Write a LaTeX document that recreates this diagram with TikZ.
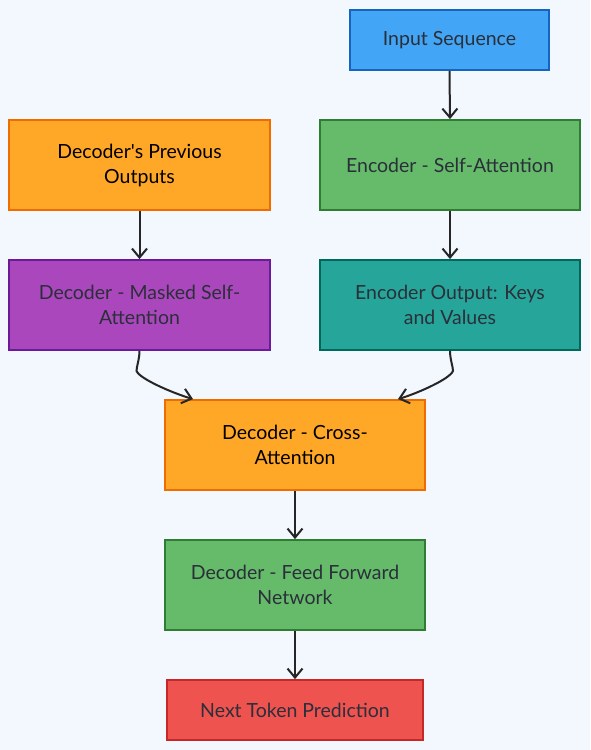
\documentclass[tikz,border=0pt]{standalone}
\usepackage{fontspec}
\setmainfont{Lato}
\usetikzlibrary{arrows.meta}
\definecolor{bg}{HTML}{F3F7FE}
\definecolor{bluef}{HTML}{42A5F5}\definecolor{blued}{HTML}{1565C0}
\definecolor{orf}{HTML}{FFA726}\definecolor{ord}{HTML}{EF6C00}
\definecolor{grf}{HTML}{66BB6A}\definecolor{grd}{HTML}{2E7D32}
\definecolor{puf}{HTML}{AB47BC}\definecolor{pud}{HTML}{6A1B9A}
\definecolor{tef}{HTML}{26A69A}\definecolor{ted}{HTML}{00695C}
\definecolor{ref}{HTML}{EF5350}\definecolor{red}{HTML}{C62828}
\definecolor{txt}{HTML}{2B2F3A}
\tikzset{
  box/.style={draw, line width=1.8pt, rectangle, align=center, inner sep=0pt,
    font=\fontsize{19.5}{25}\selectfont, text=txt},
  conn/.style={draw=black!85, line width=2pt, -{Straight Barb[length=9pt,width=15pt,line width=2pt]}},
}
\begin{document}
\begin{tikzpicture}[x=1pt,y=-1pt]
\fill[bg] (0,0) rectangle (590,750);
\useasboundingbox (0,0) rectangle (590,750);
\node[box, fill=bluef, draw=blued, minimum width=199pt, minimum height=60pt] (inp) at (449.5,40) {Input Sequence};
\node[box, fill=orf, draw=ord, text=black, minimum width=261pt, minimum height=90pt] (prev) at (139.5,165) {Decoder\textquotesingle s Previous\\Outputs};
\node[box, fill=grf, draw=grd, minimum width=260pt, minimum height=90pt] (esa) at (450,165) {Encoder - Self-Attention};
\node[box, fill=puf, draw=pud, minimum width=261pt, minimum height=90pt] (msa) at (139.5,305) {Decoder - Masked Self-\\Attention};
\node[box, fill=tef, draw=ted, minimum width=260pt, minimum height=90pt] (eout) at (450,305) {Encoder Output: Keys\\and Values};
\node[box, fill=orf, draw=ord, text=black, minimum width=260pt, minimum height=90pt] (cross) at (295,445) {Decoder - Cross-\\Attention};
\node[box, fill=grf, draw=grd, minimum width=260pt, minimum height=90pt] (ffn) at (295,585) {Decoder - Feed Forward\\Network};
\node[box, fill=ref, draw=red, minimum width=256pt, minimum height=60pt] (nxt) at (295,710) {Next Token Prediction};
\draw[conn] (inp.south) -- (esa.north);
\draw[conn] (prev.south) -- (msa.north);
\draw[conn] (esa.south) -- (eout.north);
\draw[conn] (msa.south) .. controls +(0,8) and +(0,-4) .. ++(-3,20) .. controls +(3,8) and +(-20,-6) .. ([xshift=-102pt]cross.north);
\draw[conn] (eout.south) .. controls +(0,8) and +(0,-4) .. ++(3,20) .. controls +(-3,8) and +(20,-6) .. ([xshift=103pt]cross.north);
\draw[conn] (cross.south) -- (ffn.north);
\draw[conn] (ffn.south) -- (nxt.north);
\end{tikzpicture}
\end{document}
